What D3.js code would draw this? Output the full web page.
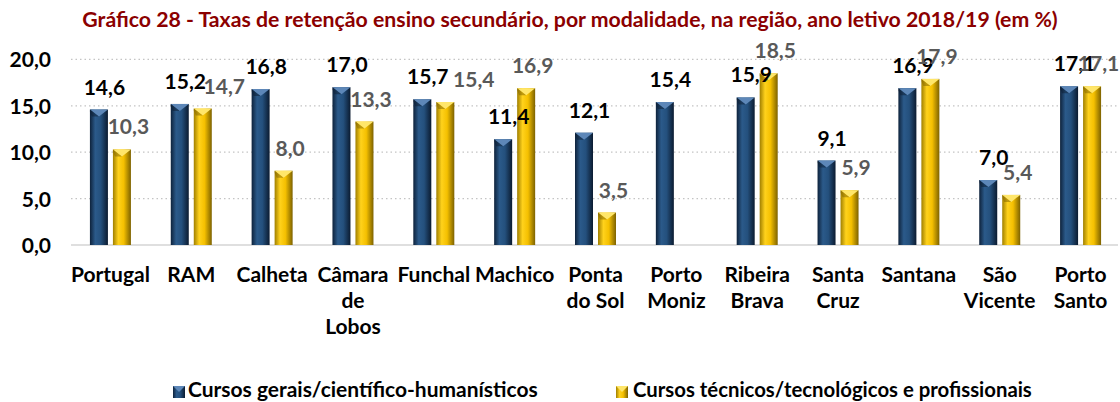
<!DOCTYPE html>
<html><head><meta charset="utf-8">
<script src="https://cdn.jsdelivr.net/npm/d3@7"></script>
<style>
html,body{margin:0;padding:0;background:#fff;}
svg{display:block;font-family:Lato,"Open Sans",sans-serif;}
</style></head>
<body><svg id="chart" width="1120" height="402"></svg>
<script>
const categories = ["Portugal","RAM","Calheta","Câmara de Lobos","Funchal","Machico","Ponta do Sol","Porto Moniz","Ribeira Brava","Santa Cruz","Santana","São Vicente","Porto Santo"];
const categoryLines = [["Portugal"],["RAM"],["Calheta"],["Câmara","de","Lobos"],["Funchal"],["Machico"],["Ponta","do Sol"],["Porto","Moniz"],["Ribeira","Brava"],["Santa","Cruz"],["Santana"],["São","Vicente"],["Porto","Santo"]];
const seriesNames = ["Cursos gerais/científico-humanísticos","Cursos técnicos/tecnológicos e profissionais"];
const gerais = [14.6,15.2,16.8,17.0,15.7,11.4,12.1,15.4,15.9,9.1,16.9,7.0,17.1];
const tecnicos = [10.3,14.7,8.0,13.3,15.4,16.9,3.5,null,18.5,5.9,17.9,5.4,17.1];
const yTicks = [0,5,10,15,20];
const titleText = "Gráfico 28 - Taxas de retenção ensino secundário, por modalidade, na região, ano letivo 2018/19 (em %)";

const svg = d3.select("#chart");
const fmt = v => v.toFixed(1).replace(".", ",");

const x = d3.scaleBand().domain(categories).range([70, 1121]).padding(0);
const y = d3.scaleLinear().domain([0, 20]).range([245, 59.4]);

const barW = 18, gap = 5;

// defs
const defs = svg.append("defs");
function grad(id, stops){
  const g = defs.append("linearGradient").attr("id", id).attr("x1","0%").attr("x2","100%").attr("y1","0%").attr("y2","0%");
  stops.forEach(s => g.append("stop").attr("offset", s[0]).attr("stop-color", s[1]));
}
grad("gBlue", [["0%","#0e223b"],["30%","#2b5a8a"],["60%","#24507d"],["100%","#0b1b30"]]);
grad("gYel", [["0%","#a07f00"],["30%","#ffd21c"],["60%","#f5c000"],["100%","#7d6200"]]);

// title
const title = svg.append("text").attr("x", 570).attr("y", 27).attr("text-anchor","middle")
  .attr("font-weight","bold").attr("fill","#8B0000").attr("font-size", 19).text(titleText);
function fit(sel, w){ const l = sel.node().getComputedTextLength(); const fs = +sel.attr("font-size"); sel.attr("font-size", fs * w / l); }
fit(title, 976);

// grid
const grid = svg.append("g");
yTicks.forEach(t => {
  grid.append("line").attr("x1", 71).attr("x2", 1118).attr("y1", y(t)).attr("y2", y(t))
    .attr("stroke", t === 0 ? "#d4d4d4" : "#c4c4c4").attr("stroke-width", t === 0 ? 1.5 : 1.2)
    .attr("stroke-dasharray", t === 0 ? null : "1.5,3");
});

// y axis labels
const yAxis = d3.axisLeft(y).tickValues(yTicks).tickFormat(fmt).tickSize(0).tickPadding(0);
const ya = svg.append("g").attr("transform", "translate(51,0)").call(yAxis);
ya.select(".domain").remove();
ya.selectAll("text").attr("font-family","Lato,'Open Sans',sans-serif").attr("font-size", 21).attr("font-weight","bold").attr("fill","#000").attr("dy","0.36em");

// bars
function drawBar(g, x0, v, fill, light, dark){
  const top = y(v), bot = y(0), x1 = x0 + barW, xc = x0 + barW/2;
  g.append("rect").attr("x", x0).attr("y", top).attr("width", barW).attr("height", bot - top).attr("fill", `url(#${fill})`);
  g.append("path").attr("d", `M${x0},${top}L${x1},${top}L${xc},${top+7}Z`).attr("fill", light);
  g.append("path").attr("d", `M${x0},${top}L${xc},${top+7}L${x0+2},${top+7}L${x0},${top+2}Z`).attr("fill", dark).attr("opacity",0.5);
}
const bars = svg.append("g");
categories.forEach((c, i) => {
  const cx = x(c) + x.bandwidth()/2;
  if (gerais[i] != null) drawBar(bars, cx - gap/2 - barW, gerais[i], "gBlue", "#5d87b8", "#0b1b30");
  if (tecnicos[i] != null) drawBar(bars, cx + gap/2, tecnicos[i], "gYel", "#ffe66a", "#7d6200");
});

// value labels
const yellowNudge = {"RAM": 15, "Funchal": 22};
const labels = svg.append("g").attr("font-weight","bold").attr("font-size", 21).attr("text-anchor","middle");
categories.forEach((c, i) => {
  const cx = x(c) + x.bandwidth()/2;
  if (gerais[i] != null) labels.append("text").attr("x", cx - 6).attr("y", y(gerais[i]) - 15).attr("fill","#000").text(fmt(gerais[i]));
  if (tecnicos[i] != null) labels.append("text").attr("x", cx + 18 + (yellowNudge[c] || 0)).attr("y", y(tecnicos[i]) - 15).attr("fill","#595959").text(fmt(tecnicos[i]));
});

// x labels
const xl = svg.append("g").attr("font-weight","bold").attr("font-size", 21).attr("text-anchor","middle").attr("fill","#000");
categories.forEach((c, i) => {
  const cx = x(c) + x.bandwidth()/2;
  const t = xl.append("text").attr("x", cx).attr("y", 282);
  categoryLines[i].forEach((ln, j) => t.append("tspan").attr("x", cx).attr("dy", j === 0 ? 0 : 26).text(ln));
});

// legend
const leg = svg.append("g").attr("font-weight","bold").attr("fill","#000");
const legItems = [{x: 173, tx: 188, w: 350, fill: "gBlue", light: "#5d87b8"}, {x: 616, tx: 633, w: 399, fill: "gYel", light: "#ffe66a"}];
legItems.forEach((it, k) => {
  leg.append("rect").attr("x", it.x).attr("y", 386).attr("width", 12).attr("height", 12).attr("fill", `url(#${it.fill})`);
  leg.append("path").attr("d", `M${it.x},386L${it.x+12},386L${it.x+6},392Z`).attr("fill", it.light);
  const t = leg.append("text").attr("x", it.tx).attr("y", 397).attr("font-size", 19).text(seriesNames[k]);
  fit(t, it.w);
});
</script></body></html>
